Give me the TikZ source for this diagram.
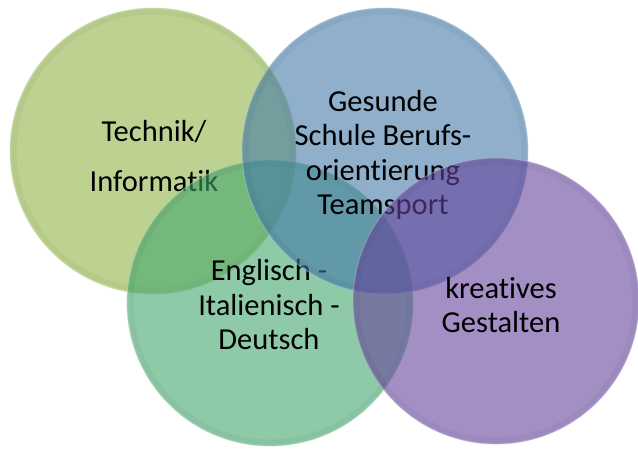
\documentclass[tikz,border=0pt]{standalone}
\usepackage{fontspec}
\setmainfont{Carlito}[Ligatures={NoCommon,NoRare,NoContextual}]
\definecolor{cyel}{RGB}{145,180,72}
\definecolor{cblu}{RGB}{68,122,168}
\definecolor{cgrn}{RGB}{67,167,110}
\definecolor{cpur}{RGB}{102,68,157}
\begin{document}
\begin{tikzpicture}[x=1pt,y=-1pt]
\tikzset{
  venn/.style={circle, minimum size=286pt, inner sep=0pt, fill=#1, fill opacity=0.6,
    draw=#1!45!white, draw opacity=0.6, line width=0.8pt,
    path picture={\draw[line width=5pt, draw=black, draw opacity=0.04]
      (path picture bounding box.center) circle[radius=139pt];}},
  lbl/.style={font=\fontsize{30.5}{34.5}\selectfont, align=center, text=black, inner sep=0pt}
}
\useasboundingbox (0,0) rectangle (638,450);
\node[venn=cyel] (yel) at (153,151) {};
\node[lbl] (tyel) at (154,156) {Technik/\\[16pt]Informatik};
\node[venn=cgrn] (grn) at (270,303) {};
\node[lbl] (tgrn) at (269,305) {Englisch -\\Italienisch -\\Deutsch};
\node[venn=cblu] (blu) at (385,151) {};
\node[lbl] (tblu) at (383,155) {Gesunde\\Schule Berufs-\\orientierung\\Teamsport};
\node[venn=cpur] (pur) at (496,301) {};
\node[lbl] (tpur) at (501,305) {kreatives\\Gestalten};
\end{tikzpicture}
\end{document}
